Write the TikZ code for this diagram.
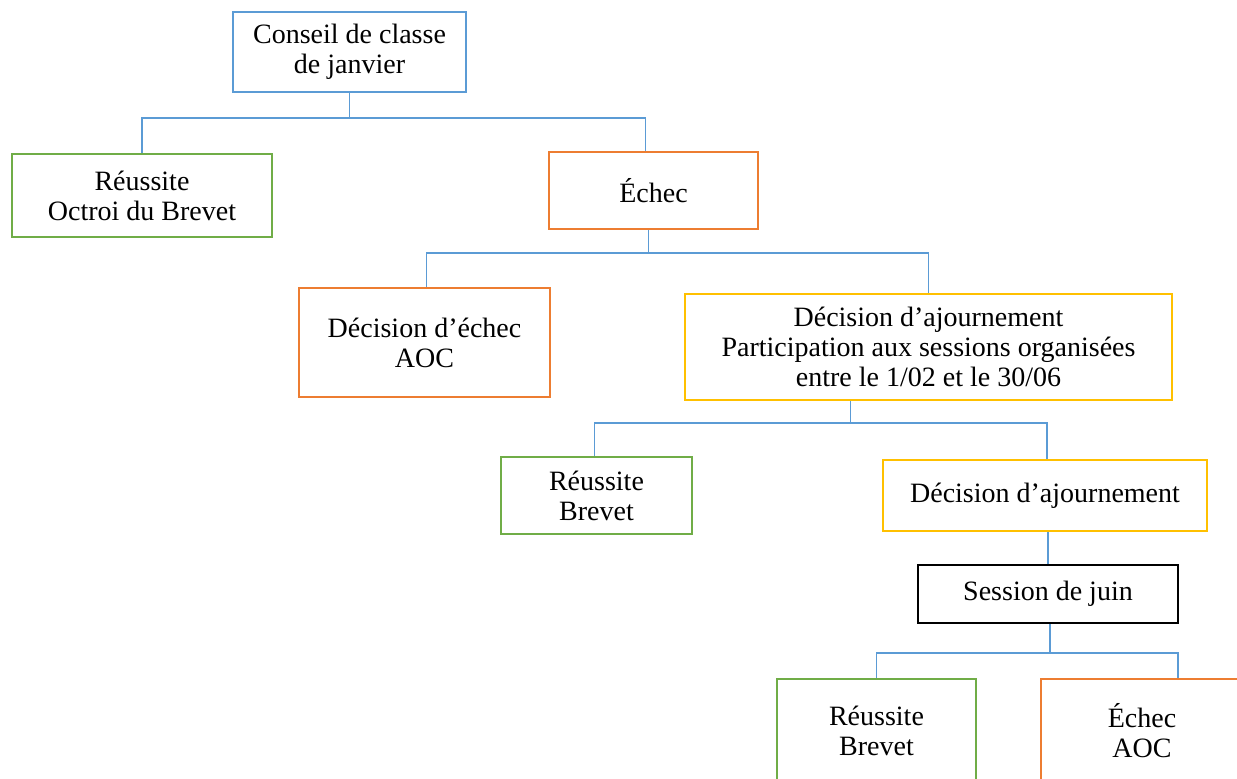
\documentclass[tikz,border=0pt]{standalone}
\usepackage{fontspec}
\setmainfont{Liberation Serif}
\usepackage{tikz}
\usetikzlibrary{arrows,shapes}
\definecolor{officeblue}{HTML}{5B9BD5}
\definecolor{officegreen}{HTML}{70AD47}
\definecolor{officeorange}{HTML}{ED7D31}
\definecolor{officegold}{HTML}{FFC000}
\tikzstyle{box}=[rectangle,draw,line width=1.4pt,align=center,inner sep=2pt,font=\fontsize{14}{15}\selectfont]
\tikzstyle{link} = [draw,officeblue,line width=0.6pt,-]

\begin{document}
\begin{tikzpicture}[x=0.5pt,y=-0.5pt]
    \useasboundingbox (0,0) rectangle (1237,778);
    \clip (0,0) rectangle (1237,778);
    \fill[white] (0,0) rectangle (1237,778);
    % First we draw the boxes
    \node[box,draw=officeblue,minimum width=116.5pt,minimum height=40pt] (conseil) at (349.5,52) {Conseil de classe\\de janvier};
    \node[box,draw=officegreen,minimum width=130pt,minimum height=41.5pt] (reussiteA) at (142,195.5) {Réussite\\Octroi du Brevet};
    \node[box,draw=officeorange,minimum width=104.5pt,minimum height=38.5pt] (echecA) at (653.5,190.5) {Échec};
    \node[box,draw=officeorange,minimum width=125.5pt,minimum height=54.5pt] (decechec) at (424.5,342.5) {Décision d’échec\\AOC};
    \node[box,draw=officegold,minimum width=243.5pt,minimum height=53pt] (ajournA) at (928.5,347) {Décision d’ajournement\\Participation aux sessions organisées\\entre le 1/02 et le 30/06};
    \node[box,draw=officegreen,minimum width=95.5pt,minimum height=38.5pt] (reussiteB) at (596.5,495.5) {Réussite\\Brevet};
    \node[box,draw=officegold,minimum width=162pt,minimum height=35.5pt] (ajournB) at (1045,495.5) {Décision d’ajournement};
    \node[box,draw=black,minimum width=130pt,minimum height=29pt] (session) at (1048,594) {Session de juin};
    \node[box,draw=officegreen,minimum width=99.5pt,minimum height=52pt] (reussiteC) at (876.5,731) {Réussite\\Brevet};
    \node[box,draw=officeorange,minimum width=101pt,minimum height=52pt] (echecC) at (1142,731) {Échec\\AOC};
    % Connect boxes with elbow lines (shifts in pt)
    \foreach \source/\sx/\dest/\dx/\bar in {conseil/0/reussiteA/0/118, conseil/0/echecA/-4/118, echecA/-2.5/decechec/1/253, echecA/-2.5/ajournA/0/253, ajournA/-39/reussiteB/-1/423, ajournA/-39/ajournB/1/423, session/1/reussiteC/0/653, session/1/echecC/18/653}
        \path[link] ([xshift=\sx pt]\source.south) -- ([xshift=\sx pt]\source.south |- 0,\bar) -| ([xshift=\dx pt]\dest.north);
    \path[link] (session.north |- ajournB.south) -- (session.north);
\end{tikzpicture}
\end{document}
